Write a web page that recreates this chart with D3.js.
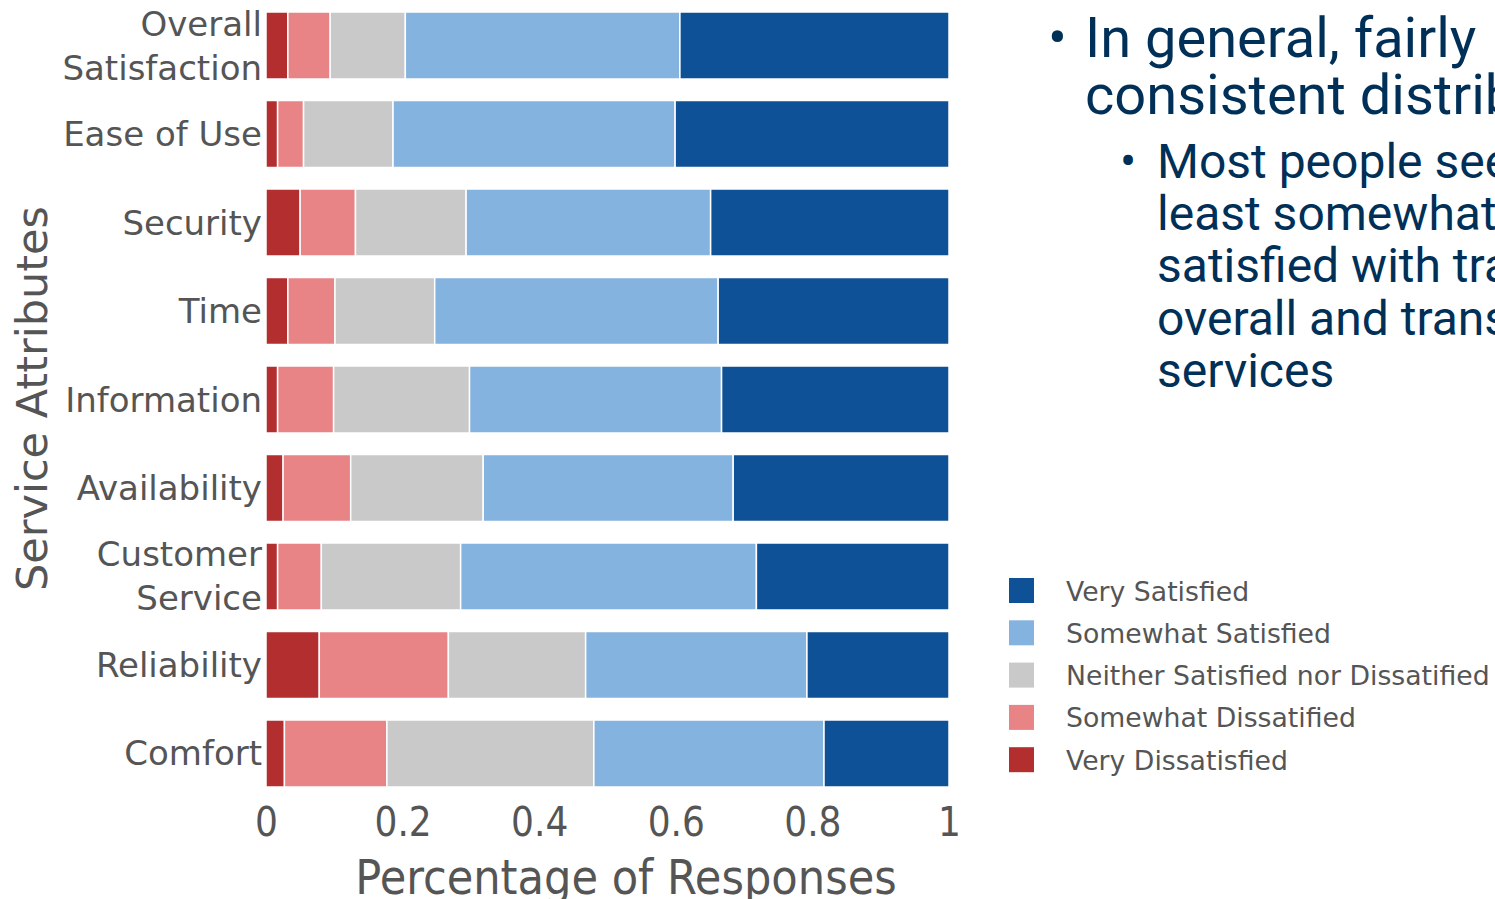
<!DOCTYPE html>
<html>
<head>
<meta charset="utf-8">
<script src="https://cdn.jsdelivr.net/npm/d3@7"></script>
<style>
  html, body { margin: 0; padding: 0; background: #fff; overflow: hidden; }
  svg { display: block; }
</style>
</head>
<body>
<script>
// Survey categories (line breaks mark two-line labels)
const categories = [
  "Overall\nSatisfaction", "Ease of Use", "Security", "Time", "Information",
  "Availability", "Customer\nService", "Reliability", "Comfort"
];

// Share of responses per category, one array per response level
const veryDissatisfied     = [0.032, 0.017, 0.050, 0.032, 0.017, 0.025, 0.017, 0.078, 0.027];
const somewhatDissatisfied = [0.062, 0.038, 0.081, 0.069, 0.082, 0.099, 0.064, 0.189, 0.150];
const neither              = [0.110, 0.131, 0.162, 0.146, 0.199, 0.194, 0.204, 0.201, 0.303];
const somewhatSatisfied    = [0.402, 0.413, 0.358, 0.415, 0.369, 0.366, 0.433, 0.324, 0.337];
const verySatisfied        = [0.394, 0.401, 0.349, 0.338, 0.333, 0.316, 0.282, 0.208, 0.183];

const seriesNames = [
  "Very Dissatisfied", "Somewhat Dissatified", "Neither Satisfied nor Dissatified",
  "Somewhat Satisfied", "Very Satisfied"
];
const legendLabels = [
  "Very Satisfied", "Somewhat Satisfied", "Neither Satisfied nor Dissatified",
  "Somewhat Dissatified", "Very Dissatisfied"
];
const tickValues = [0, 0.2, 0.4, 0.6, 0.8, 1];

const colors = ["#b22e2f", "#e98486", "#c9c9c9", "#84b3df", "#0f5196"];

// Bullet notes beside the chart
const bulletMain = ["In general, fairly", "consistent distribution"];
const bulletSub = ["Most people seem to be at", "least somewhat or very", "satisfied with transit", "overall and transit", "services"];

const W = 1495, H = 899;
const svg = d3.select("body").append("svg").attr("width", W).attr("height", H);

// Build a row-wise table for the stack layout
const table = categories.map((c, i) => ({
  category: c,
  [seriesNames[0]]: veryDissatisfied[i],
  [seriesNames[1]]: somewhatDissatisfied[i],
  [seriesNames[2]]: neither[i],
  [seriesNames[3]]: somewhatSatisfied[i],
  [seriesNames[4]]: verySatisfied[i]
}));
const stacked = d3.stack().keys(seriesNames)(table);

const x = d3.scaleLinear().domain([0, 1]).range([266, 949]);
const y = d3.scaleBand().domain(categories).range([1.25, 797.75])
  .paddingInner(0.2429).paddingOuter(0.1215);
const color = d3.scaleOrdinal().domain(seriesNames).range(colors);

// Stacked bars
svg.append("g").selectAll("g").data(stacked).join("g")
  .attr("fill", d => color(d.key))
  .selectAll("rect").data(d => d).join("rect")
  .attr("x", d => x(d[0]))
  .attr("y", d => y(d.data.category))
  .attr("width", d => x(d[1]) - x(d[0]))
  .attr("height", y.bandwidth())
  .attr("stroke", "#fff")
  .attr("stroke-width", 1.5);

// Category labels
const labelFont = "'DejaVu Sans', Verdana, sans-serif";
const labels = svg.append("g")
  .attr("font-family", labelFont).attr("font-size", 34).attr("fill", "#555")
  .attr("text-anchor", "end");
categories.forEach(c => {
  const lines = c.split("\n");
  const cy = y(c) + y.bandwidth() / 2;
  const t = labels.append("text").attr("x", 262);
  if (lines.length === 1) {
    t.append("tspan").attr("x", 262).attr("y", cy + 12).text(lines[0]);
  } else {
    t.append("tspan").attr("x", 262).attr("y", cy - 10).text(lines[0]);
    t.append("tspan").attr("x", 262).attr("y", cy + 34).text(lines[1]);
  }
});

// Y axis title
svg.append("text")
  .attr("transform", "translate(47,398.5) rotate(-90)")
  .attr("text-anchor", "middle")
  .attr("font-family", labelFont).attr("font-size", 43).attr("fill", "#555")
  .text("Service Attributes");

// X axis
const condFont = "'DejaVu Sans Condensed', 'DejaVu Sans', sans-serif";
const xAxis = svg.append("g").attr("transform", "translate(0,797)")
  .call(d3.axisBottom(x).tickValues(tickValues).tickFormat(d3.format("~g")).tickSize(0));
xAxis.select(".domain").remove();
xAxis.selectAll("text")
  .attr("y", 39).attr("dy", 0)
  .attr("font-family", condFont).attr("font-size", 40).attr("fill", "#555");

svg.append("text")
  .attr("x", 626).attr("y", 894)
  .attr("text-anchor", "middle")
  .attr("font-family", condFont).attr("font-size", 48).attr("fill", "#555")
  .text("Percentage of Responses");

// Legend
const legend = svg.append("g").attr("font-family", labelFont).attr("font-size", 26.7).attr("fill", "#555");
legendLabels.forEach((name, i) => {
  const cy = 590.5 + i * 42.3;
  legend.append("rect")
    .attr("x", 1009).attr("y", cy - 12.5).attr("width", 25).attr("height", 25)
    .attr("fill", color(name === "Very Satisfied" ? seriesNames[4] : name));
  legend.append("text").attr("x", 1066).attr("y", cy + 10).text(name);
});

// Bullet notes
const notes = svg.append("g").attr("font-family", "Roboto, sans-serif").attr("fill", "#003057");
notes.append("text").attr("x", 1048).attr("y", 57).attr("font-size", 56).text("•");
bulletMain.forEach((s, i) => {
  notes.append("text").attr("x", 1085).attr("y", 57 + i * 57).attr("font-size", 56).text(s);
});
notes.append("text").attr("x", 1120).attr("y", 178).attr("font-size", 48).text("•");
bulletSub.forEach((s, i) => {
  notes.append("text").attr("x", 1157).attr("y", 178 + i * 52.2).attr("font-size", 48).text(s);
});
</script>
</body>
</html>
